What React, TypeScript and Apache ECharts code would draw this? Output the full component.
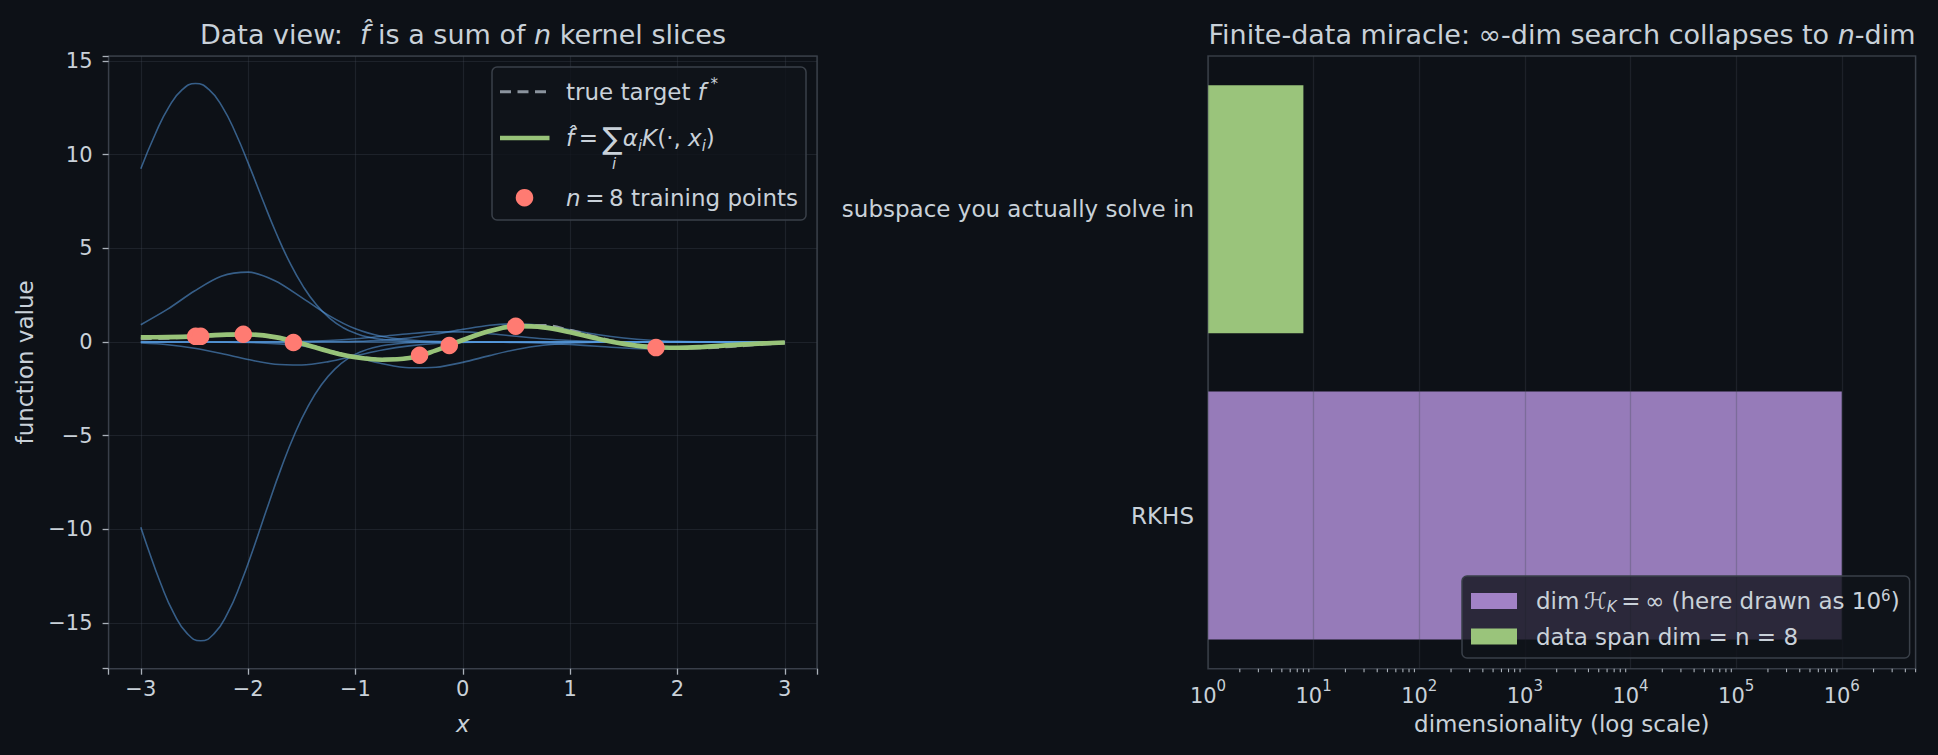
import React, { useEffect, useRef } from "react";
import * as echarts from "echarts";

const FONT = "DejaVu Sans";
const BG = "#0d1117";
const TEXT = "#c9d1d9";
const TICK = "#aab1b9";
const SPINE = "#363c46";
const GRIDLINE = "rgba(65,72,83,0.32)";
const SLICE = "#5a9ee6";
const GREEN = "#98c379";
const RED = "#ff7b72";
const GREY = "#8b949e";
const PURPLE = "#967bb9";
const PURPLE_LEGEND = "#a282c6";
const GREEN_BAR = "#9ac47b";

// ---- left panel data ----
const xs = [-3, -2.75, -2.5, -2.25, -2, -1.75, -1.5, -1.25, -1, -0.75, -0.5, -0.25, 0, 0.25, 0.5, 0.75, 1, 1.25, 1.5, 1.75, 2, 2.25, 2.5, 2.75, 3];
// the two large slices are read more densely around their extremes
const slice1X = [-3, -2.864, -2.739, -2.614, -2.489, -2.364, -2.239, -2.114, -1.989, -1.864, -1.739, -1.614, -1.489, -1.364, -1.239, -1.114, -0.989, -0.864, -0.739, -0.489, -0.239, 0, 3];
const slice1 = [9.25, 11.12, 12.54, 13.47, 13.8, 13.47, 12.54, 11.12, 9.4, 7.58, 5.82, 4.26, 2.98, 1.98, 1.26, 0.76, 0.44, 0.24, 0.13, 0.03, 0.01, 0, 0];
const slice2X = [-3, -2.942, -2.817, -2.692, -2.567, -2.442, -2.317, -2.192, -2.067, -1.942, -1.817, -1.692, -1.567, -1.442, -1.317, -1.192, -1.067, -0.942, -0.817, -0.692, -0.442, -0.192, 0, 3];
const slice2 = [-9.9, -10.88, -12.86, -14.5, -15.58, -15.96, -15.58, -14.5, -12.86, -10.88, -8.77, -6.74, -4.93, -3.44, -2.29, -1.45, -0.88, -0.51, -0.28, -0.15, -0.03, -0.01, 0, 0];
const slice3 = [0.92, 1.75, 2.72, 3.51, 3.73, 3.27, 2.37, 1.42, 0.7, 0.29, 0.1, 0.03, 0.01, 0, 0, 0, 0, 0, 0, 0, 0, 0, 0, 0, 0];
const slice4 = [-0.06, -0.15, -0.34, -0.62, -0.94, -1.19, -1.23, -1.05, -0.74, -0.43, -0.21, -0.08, -0.03, -0.01, 0, 0, 0, 0, 0, 0, 0, 0, 0, 0, 0];
const slice5 = [0, 0, 0, -0.01, -0.03, -0.09, -0.22, -0.47, -0.81, -1.16, -1.38, -1.35, -1.09, -0.73, -0.4, -0.18, -0.07, -0.02, -0.01, 0, 0, 0, 0, 0, 0];
const slice6 = [0, 0, 0, 0, 0, 0.01, 0.03, 0.08, 0.17, 0.3, 0.44, 0.54, 0.54, 0.44, 0.3, 0.17, 0.08, 0.03, 0.01, 0, 0, 0, 0, 0, 0];
const slice7 = [0, 0, 0, 0, 0, 0, 0, 0.01, 0.03, 0.09, 0.21, 0.42, 0.67, 0.89, 0.97, 0.88, 0.65, 0.4, 0.21, 0.09, 0.03, 0.01, 0, 0, 0];
const slice8 = [0, 0, 0, 0, 0, 0, 0, 0, 0, 0, 0, 0, 0, -0.01, -0.03, -0.07, -0.14, -0.23, -0.32, -0.37, -0.35, -0.27, -0.18, -0.09, -0.04];
const slicesCoarse = [slice3, slice4, slice5, slice6, slice7, slice8];
const fHat = [0.25, 0.26, 0.3, 0.38, 0.4, 0.26, -0.08, -0.5, -0.82, -0.95, -0.86, -0.45, 0.1, 0.58, 0.84, 0.78, 0.52, 0.18, -0.1, -0.27, -0.31, -0.26, -0.17, -0.09, -0.03];
const fTrue = [0.17, 0.2, 0.27, 0.36, 0.38, 0.24, -0.07, -0.47, -0.78, -0.92, -0.85, -0.45, 0.12, 0.6, 0.88, 0.88, 0.62, 0.25, -0.06, -0.24, -0.32, -0.31, -0.24, -0.14, -0.05];
const trainX = [-2.489, -2.442, -2.045, -1.578, -0.403, -0.126, 0.493, 1.8];
const trainY = [0.3, 0.3, 0.41, -0.03, -0.71, -0.19, 0.84, -0.3];

// ---- right panel data ----
const barCategories = ["RKHS", "subspace you actually solve in"];
const rkhsDim = [1e6, "-"];
const spanDim = ["-", 8];
const minorTickDecades = [1, 10, 100, 1000, 10000, 100000, 1000000];
const minorTickMultipliers = [2, 3, 4, 5, 6, 7, 8, 9];

const minus = (s: string) => s.replace("-", "\u2212");

export default function App() {
  const ref = useRef<HTMLDivElement>(null);
  useEffect(() => {
    document.body.style.margin = "0";
    document.body.style.background = BG;
    const chart = echarts.init(ref.current!, undefined, { renderer: "svg" });

    const minorTicks: number[][] = [];
    minorTickDecades.forEach((d) =>
      minorTickMultipliers.forEach((m) => {
        if (d * m <= 5e6) minorTicks.push([d * m, 0]);
      })
    );

    const tickStyle = { color: TICK, width: 1.3 };
    const gRich = {
      n: { fontSize: 23, fontFamily: FONT, lineHeight: 30, fill: TEXT },
      i: { fontSize: 23, fontFamily: FONT, fontStyle: "italic", lineHeight: 30, fill: TEXT },
      sup: { fontSize: 15, fontFamily: FONT, fontStyle: "italic", lineHeight: 16, verticalAlign: "top", fill: TEXT },
      sub: { fontSize: 15, fontFamily: FONT, fontStyle: "italic", lineHeight: 14, verticalAlign: "bottom", fill: TEXT },
      s: { fontSize: 30, fontFamily: FONT, lineHeight: 30, fill: TEXT },
    };
    const titleRich = {
      n: { fontSize: 27, fontFamily: FONT, fill: TEXT },
      i: { fontSize: 27, fontFamily: FONT, fontStyle: "italic", fill: TEXT },
    };

    const sliceSeries = (xv: number[], s: number[], k: string, smooth: number) => ({
      type: "line", name: k, xAxisIndex: 0, yAxisIndex: 0,
      data: xv.map((x, i) => [x, s[i]]),
      smooth, symbol: "none", silent: true, z: 2,
      lineStyle: { color: SLICE, width: 1.6, opacity: 0.55 },
    });

    const option: any = {
      animation: false,
      backgroundColor: BG,
      textStyle: { fontFamily: FONT, color: TEXT },
      grid: [
        { left: 108.6, top: 56, width: 708.4, height: 612.7, show: true, borderColor: SPINE, borderWidth: 1.5, backgroundColor: "transparent" },
        { left: 1208, top: 56, width: 707.6, height: 612.7, show: true, borderColor: SPINE, borderWidth: 1.5, backgroundColor: "transparent" },
      ],
      xAxis: [
        {
          type: "value", gridIndex: 0, min: -3.3, max: 3.3,
          axisLine: { show: false, onZero: false },
          axisTick: { length: 6, lineStyle: tickStyle },
          axisLabel: {
            color: TEXT, fontSize: 21, fontFamily: FONT, margin: 10,
            formatter: (v: number) => (Math.abs(v - Math.round(v)) < 1e-9 ? minus(String(Math.round(v))) : ""),
          },
          splitLine: { show: true, lineStyle: { color: GRIDLINE, width: 1.2 } },
          name: "x", nameLocation: "middle", nameGap: 44,
          nameTextStyle: { color: TEXT, fontSize: 23, fontStyle: "italic", fontFamily: FONT },
        },
        {
          type: "log", gridIndex: 1, min: 1, max: 5e6, logBase: 10, z: 3,
          axisLine: { show: false, onZero: false },
          axisTick: { length: 6, lineStyle: tickStyle },
          axisLabel: {
            margin: 10,
            formatter: (v: number) => {
              const e = Math.log10(v);
              const r = Math.round(e);
              if (Math.abs(e - r) > 1e-6) return "";
              return `{b|10}{s|${r}}`;
            },
            rich: {
              b: { fontSize: 21, fontFamily: FONT, color: TEXT, lineHeight: 28, verticalAlign: "bottom" },
              s: { fontSize: 15, fontFamily: FONT, color: TEXT, lineHeight: 15, verticalAlign: "top" },
            },
          },
          splitLine: { show: true, lineStyle: { color: "rgba(65,72,83,0.3)", width: 1.3 } },
          name: "dimensionality (log scale)", nameLocation: "middle", nameGap: 44,
          nameTextStyle: { color: TEXT, fontSize: 23, fontFamily: FONT },
        },
      ],
      yAxis: [
        {
          type: "value", gridIndex: 0, min: -17.45, max: 15.27,
          axisLine: { show: false, onZero: false },
          axisTick: { length: 6, lineStyle: tickStyle },
          axisLabel: {
            color: TEXT, fontSize: 21, fontFamily: FONT, margin: 16,
            formatter: (v: number) => (Math.abs(v / 5 - Math.round(v / 5)) < 1e-9 ? minus(String(Math.round(v))) : ""),
          },
          splitLine: { show: true, lineStyle: { color: GRIDLINE, width: 1.2 } },
          name: "function value", nameLocation: "middle", nameGap: 72,
          nameTextStyle: { color: TEXT, fontSize: 23, fontFamily: FONT },
        },
        {
          type: "category", gridIndex: 1, data: barCategories,
          axisLine: { show: false, onZero: false },
          axisTick: { alignWithLabel: true, length: 6, lineStyle: tickStyle },
          axisLabel: { color: TEXT, fontSize: 23, fontFamily: FONT, margin: 14 },
          splitLine: { show: false },
        },
      ],
      legend: [
        {
          data: [
            { name: "dimH", icon: "rect", itemStyle: { color: PURPLE_LEGEND } },
            { name: "span", icon: "rect", itemStyle: { color: GREEN_BAR } },
          ],
          orient: "vertical", left: 1462, top: 576,
          itemWidth: 46, itemHeight: 16, itemGap: 11,
          padding: [12, 10, 10, 9],
          backgroundColor: "rgba(16,20,26,0.8)", borderColor: "#3a4049", borderWidth: 1.5, borderRadius: 5,
          selectedMode: false, z: 10,
          textStyle: {
            color: TEXT, fontSize: 23, fontFamily: FONT,
            rich: {
              g: { width: 14 },
              n: { fontSize: 23, fontFamily: FONT, color: TEXT, lineHeight: 26 },
              cal: { fontSize: 23, fontFamily: FONT, color: TEXT, fontStyle: "italic", lineHeight: 26 },
              sub: { fontSize: 15, fontFamily: FONT, color: TEXT, fontStyle: "italic", lineHeight: 12, verticalAlign: "bottom" },
              sup: { fontSize: 15, fontFamily: FONT, color: TEXT, lineHeight: 12, verticalAlign: "top" },
            },
          },
          formatter: (name: string) =>
            name === "dimH"
              ? "{g| }{n|dim\u2009}{cal|\u210B}{sub|K}{n|\u2009=\u2009\u221E (here drawn as 10}{sup|6}{n|)}"
              : "{g| }{n|data span dim = n = 8}",
        },
      ],
      graphic: {
        elements: [
          {
            type: "text", x: 463, y: 34, z: 100,
            style: {
              text: "{n|Data view:  }{i|f\u0302}{n| is a sum of }{i|n}{n| kernel slices}",
              rich: titleRich, align: "center", verticalAlign: "middle", fill: TEXT, fontFamily: FONT, fontSize: 27,
            },
          },
          {
            type: "text", x: 1562, y: 34, z: 100,
            style: {
              text: "{n|Finite-data miracle: \u221E-dim search collapses to }{i|n}{n|-dim}",
              rich: titleRich, align: "center", verticalAlign: "middle", fill: TEXT, fontFamily: FONT, fontSize: 27,
            },
          },
          // left legend
          {
            type: "rect", z: 100,
            shape: { x: 492, y: 67, width: 314, height: 153, r: 5 },
            style: { fill: "rgba(16,20,26,0.8)", stroke: "#3a4049", lineWidth: 1.5 },
          },
          {
            type: "line", z: 101,
            shape: { x1: 500, y1: 91.7, x2: 549.5, y2: 91.7 },
            style: { stroke: GREY, lineWidth: 3, lineDash: [11, 6.5] },
          },
          {
            type: "line", z: 101,
            shape: { x1: 500, y1: 138, x2: 549.5, y2: 138 },
            style: { stroke: GREEN, lineWidth: 4.7 },
          },
          {
            type: "circle", z: 101,
            shape: { cx: 524.5, cy: 197.7, r: 8.8 },
            style: { fill: RED },
          },
          {
            type: "text", x: 566, y: 91.7, z: 101,
            style: { text: "{n|true target }{i|f\u2009}{sup|*}", rich: gRich, verticalAlign: "middle", fill: TEXT, fontFamily: FONT, fontSize: 23 },
          },
          {
            type: "text", x: 566, y: 138, z: 101,
            style: {
              text: "{i|f\u0302}{n|\u2009=\u2009}{s|\u2211}{i|\u03B1}{sub|i}{i|K}{n|(\u00B7, }{i|x}{sub|i}{n|)}",
              rich: gRich, verticalAlign: "middle", fill: TEXT, fontFamily: FONT, fontSize: 23,
            },
          },
          {
            type: "text", x: 614, y: 164, z: 101,
            style: { text: "i", fontStyle: "italic", fontSize: 15, fontFamily: FONT, fill: TEXT, align: "center", verticalAlign: "middle" },
          },
          {
            type: "text", x: 566, y: 197.7, z: 101,
            style: { text: "{i|n}{n|\u2009=\u20098 training points}", rich: gRich, verticalAlign: "middle", fill: TEXT, fontFamily: FONT, fontSize: 23 },
          },
        ],
      },
      series: [
        sliceSeries(slice1X, slice1, "slice1", 0.5),
        sliceSeries(slice2X, slice2, "slice2", 0.5),
        ...slicesCoarse.map((s, k) => sliceSeries(xs, s, `slice${k + 3}`, 0.3)),
        {
          type: "line", name: "true target", xAxisIndex: 0, yAxisIndex: 0,
          data: xs.map((x, i) => [x, fTrue[i]]),
          smooth: 0.4, symbol: "none", z: 3,
          lineStyle: { color: GREY, width: 3, type: [11, 6.5] },
        },
        {
          type: "line", name: "fhat", xAxisIndex: 0, yAxisIndex: 0,
          data: xs.map((x, i) => [x, fHat[i]]),
          smooth: 0.4, symbol: "none", z: 4,
          lineStyle: { color: GREEN, width: 4.7 },
        },
        {
          type: "scatter", name: "training points", xAxisIndex: 0, yAxisIndex: 0,
          data: trainX.map((x, i) => [x, trainY[i]]),
          symbolSize: 17.5, z: 5,
          itemStyle: { color: RED, opacity: 1 },
        },
        {
          type: "bar", name: "dimH", xAxisIndex: 1, yAxisIndex: 1,
          data: rkhsDim, barWidth: 248, barGap: "-100%", z: 2,
          itemStyle: { color: PURPLE },
        },
        {
          type: "bar", name: "span", xAxisIndex: 1, yAxisIndex: 1,
          data: spanDim, barWidth: 248, barGap: "-100%", z: 2,
          itemStyle: { color: GREEN_BAR },
        },
        {
          type: "custom", name: "minor ticks", xAxisIndex: 1, yAxisIndex: 1,
          data: minorTicks, clip: false, silent: true, z: 5,
          renderItem: (params: any, api: any) => {
            const x = api.coord([api.value(0), 0])[0];
            const cs = params.coordSys;
            const y0 = cs.y + cs.height;
            return {
              type: "line",
              shape: { x1: x, y1: y0, x2: x, y2: y0 + 3.5 },
              style: { stroke: TICK, lineWidth: 1.1 },
            };
          },
        },
      ],
    };
    chart.setOption(option);
    return () => chart.dispose();
  }, []);
  return (
    <div
      ref={ref}
      style={{ position: "absolute", left: 0, top: 0, width: 1938, height: 755, background: BG }}
    />
  );
}
